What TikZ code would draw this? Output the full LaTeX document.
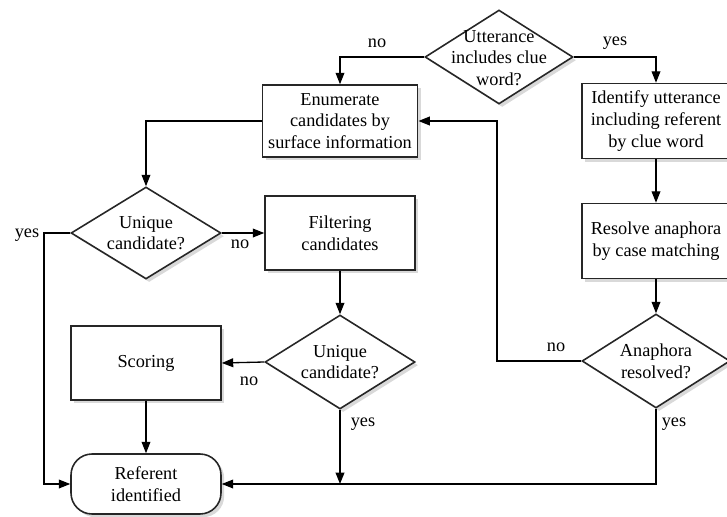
\documentclass[tikz,border=0pt]{standalone}
\usepackage{fontspec}
\setmainfont{Liberation Serif}
\usepackage{tikz}
\usetikzlibrary{arrows.meta, shapes, shadows}

\begin{document}
\begin{tikzpicture}[x=0.02cm, y=-0.02cm, font=\fontsize{10.4}{12.4}\selectfont]
            \useasboundingbox (0,0) rectangle (727,517);

            \begin{scope}[every node/.style={draw=black!85, line width=0.9pt, fill=white, align=center,
                          drop shadow={shadow xshift=1.8pt, shadow yshift=-1.8pt, opacity=0.3}}]
                \node[diamond, minimum width=2.96cm, minimum height=1.88cm] (C) at (499,57) {};
                \node[minimum width=3cm, minimum height=1.44cm] (E) at (340,121) {Enumerate\\candidates by\\surface information};
                \node[minimum width=2.96cm, minimum height=1.5cm] (I) at (656,121) {Identify utterance\\including referent\\by clue word};
                \node[diamond, minimum width=3cm, minimum height=1.84cm] (U1) at (146,233) {};
                \node[minimum width=3cm, minimum height=1.48cm] (F) at (340,233) {Filtering\\candidates};
                \node[minimum width=2.96cm, minimum height=1.5cm] (R) at (656,241) {Resolve anaphora\\by case matching};
                \node[diamond, minimum width=3cm, minimum height=1.88cm] (U2) at (340,362) {};
                \node[minimum width=3cm, minimum height=1.48cm] (S) at (146,363) {Scoring};
                \node[rounded corners=0.42cm, minimum width=3cm, minimum height=1.2cm] (Ref) at (146,484) {Referent\\identified};
            \end{scope}
            \begin{scope}[every node/.style={draw=black!85, line width=0.9pt, fill=white,
                          drop shadow={shadow xshift=1.8pt, shadow yshift=-1.8pt, opacity=0.3}}]
                \node[diamond, minimum width=2.96cm, minimum height=1.88cm] (A) at (656,361) {};
            \end{scope}

            \begin{scope}[every node/.style={align=center}]
                \node (Ct) at (499,58) {Utterance\\includes clue\\word?};
                \node (U1t) at (146,233) {Unique\\candidate?};
                \node (U2t) at (340,362) {Unique\\candidate?};
                \node (At) at (656,361) {Anaphora\\resolved?};
                % yes / no
                \node (n1) at (377,43) {no};
                \node (y1) at (615,43) {yes};
                \node (y2) at (27,235) {yes};
                \node (n2) at (240,244) {no};
                \node (n3) at (249,381) {no};
                \node (y3) at (363,424) {yes};
                \node (n4) at (556,347) {no};
                \node (y4) at (674,424) {yes};
            \end{scope}

            \coordinate (yl) at (44,233);
            \coordinate (fb) at (497,361);

            \begin{scope}[>={Stealth[length=6.5pt, width=5pt, inset=0pt]}, line width=0.75pt]
                \draw[->] (C.west) -| (E.north);
                \draw[->] (C.east) -| (I.north);
                \draw[->] (E.west) -| (U1.north);
                \draw[->] (U1.east) -- (F.west);
                \draw[->] (U1.west) -- (yl) |- (Ref.west);
                \draw[->] (F.south) -- (U2.north);
                \draw[->] (U2.west) -- (S.east);
                \draw[->] (S.south) -- (Ref.north);
                \draw[->] (U2.south) -- (U2.south |- Ref.east);
                \draw[->] (A.south) |- (Ref.east);
                \draw[->] (I.south) -- (R.north);
                \draw[->] (R.south) -- (A.north);
                \draw[->] (A.west) -- (fb) |- (E.east);
            \end{scope}

            \end{tikzpicture}
\end{document}
